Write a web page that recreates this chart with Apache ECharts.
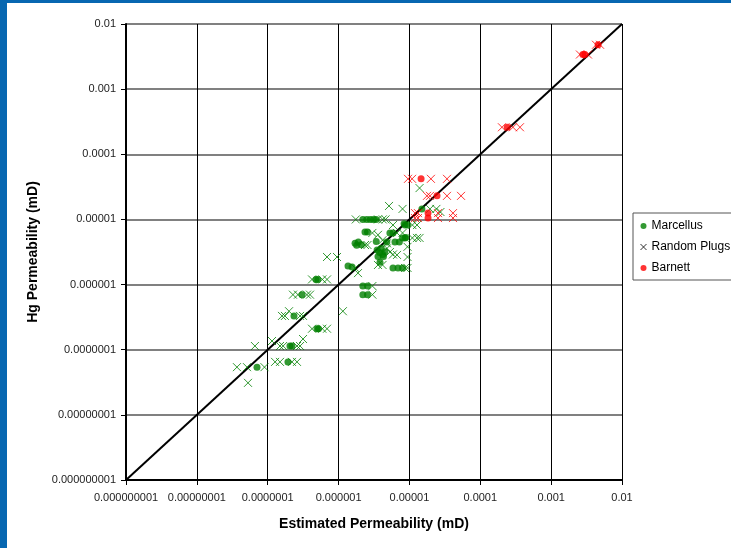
<!DOCTYPE html>
<html>
<head>
<meta charset="utf-8">
<script src="https://cdn.jsdelivr.net/npm/echarts@6/dist/echarts.min.js"></script>
<style>
html,body{margin:0;padding:0;background:#fff;}
#c{width:731px;height:548px;}
</style>
</head>
<body>
<div id="c"></div>
<script>
const tickLabels = ['0.000000001','0.00000001','0.0000001','0.000001','0.00001','0.0001','0.001','0.01'];
const xTitle = 'Estimated Permeability (mD)';
const yTitle = 'Hg Permeability (mD)';
const seriesNames = ['Marcellus','Random Plugs','Barnett'];

// Marcellus (green dots) [estimated, Hg]
const marcellus = [
  [2.2e-6,1e-5],[2.5e-6,1e-5],[2.8e-6,1e-5],[3.1e-6,1e-5],[3.4e-6,1e-5],
  [8.65e-6,8.2e-6],[9.4e-6,8.2e-6],[8.4e-6,8.6e-6],[1.5e-5,1.45e-5],
  [2.36e-6,6.4e-6],[2.56e-6,6.4e-6],[5.3e-6,6.2e-6],[5.86e-6,6.2e-6],
  [8.0e-6,5.2e-6],[8.65e-6,5.2e-6],[8.9e-6,5.3e-6],
  [1.71e-6,4.3e-6],[1.9e-6,4.5e-6],[2.1e-6,4.1e-6],[1.8e-6,4.0e-6],
  [3.4e-6,4.6e-6],[4.8e-6,4.5e-6],[6.25e-6,4.5e-6],[7.2e-6,4.5e-6],
  [3.5e-6,3.4e-6],[3.8e-6,3.1e-6],[4.2e-6,2.9e-6],[3.6e-6,2.7e-6],[4.5e-6,3.2e-6],[4.0e-6,3.6e-6],[4.3e-6,2.7e-6],
  [1.36e-6,1.93e-6],[1.55e-6,1.86e-6],[3.84e-6,2.2e-6],
  [5.86e-6,1.8e-6],[6.9e-6,1.8e-6],[8.0e-6,1.8e-6],
  [4.8e-7,1.2e-6],[5.1e-7,1.2e-6],
  [2.2e-6,9.5e-7],[2.56e-6,9.5e-7],[2.2e-6,7e-7],[2.56e-6,7e-7],
  [3.05e-7,7e-7],[2.35e-7,3.3e-7],[4.96e-7,2.1e-7],[5.2e-7,2.1e-7],
  [2.06e-7,1.14e-7],[2.2e-7,1.14e-7],[1.93e-7,6.5e-8],[7.06e-8,5.4e-8]
];

// Random plugs measured in the Marcellus group (green crosses)
const plugsGreen = [
  [1.39e-5,3.03e-5],[5.15e-6,1.61e-5],[8.0e-6,1.45e-5],[1.95e-5,1.45e-5],[2.4e-5,1.45e-5],[2.74e-5,1.3e-5],
  [1.75e-6,1e-5],[3.6e-6,1e-5],[4.2e-6,1e-5],[4.6e-6,1e-5],
  [5.86e-6,8.2e-6],[1.1e-5,8.2e-6],[1.28e-5,8.2e-6],
  [3.0e-6,6.2e-6],[3.6e-6,5.8e-6],[6.68e-6,6.2e-6],[8.0e-6,6.2e-6],
  [1.1e-5,5.2e-6],[1.28e-5,5.2e-6],[1.39e-5,5.2e-6],
  [2.36e-6,4.05e-6],[2.56e-6,4.05e-6],[4.17e-6,4.8e-6],[4.82e-6,4.3e-6],
  [4.82e-6,3.6e-6],[5.3e-6,3.16e-6],[6.68e-6,2.85e-6],[5.86e-6,2.9e-6],
  [9.4e-6,3.8e-6],[9.4e-6,2.65e-6],[6.87e-7,2.65e-6],[9.5e-7,2.65e-6],
  [1.71e-6,1.8e-6],[1.88e-6,1.5e-6],[3.6e-6,2.0e-6],[4.17e-6,2.0e-6],
  [8.65e-6,1.8e-6],[9.4e-6,1.8e-6],
  [4.22e-7,1.2e-6],[5.9e-7,1.2e-6],[6.87e-7,1.2e-6],
  [3.0e-6,9.5e-7],[3.0e-6,7e-7],
  [2.27e-7,7e-7],[2.67e-7,7e-7],[3.58e-7,7e-7],[3.95e-7,7e-7],
  [1.15e-6,3.9e-7],[2.0e-7,3.9e-7],
  [1.59e-7,3.3e-7],[1.75e-7,3.3e-7],[2.86e-7,3.3e-7],[3.15e-7,3.3e-7],
  [4.22e-7,2.1e-7],[5.9e-7,2.1e-7],[6.87e-7,2.1e-7],
  [3.15e-7,1.46e-7],[6.6e-8,1.14e-7],[1.15e-7,1.36e-7],
  [1.49e-7,1.14e-7],[1.65e-7,1.14e-7],[2.59e-7,1.14e-7],[2.86e-7,1.14e-7],
  [1.27e-7,6.5e-8],[1.49e-7,6.5e-8],[2.2e-7,6.5e-8],[2.59e-7,6.5e-8],
  [3.68e-8,5.4e-8],[5.1e-8,5.4e-8],[9.0e-8,5.4e-8],[5.27e-8,3.1e-8]
];

// Random plugs measured in the Barnett group (red crosses)
const plugsRed = [
  [9.55e-6,4.2e-5],[1.09e-5,4.2e-5],[2.01e-5,4.2e-5],[3.39e-5,4.2e-5],
  [1.77e-5,2.3e-5],[1.95e-5,2.3e-5],[3.39e-5,2.3e-5],[5.35e-5,2.3e-5],
  [1.2e-5,1.25e-5],[1.32e-5,1.25e-5],[2.53e-5,1.25e-5],[4.12e-5,1.25e-5],
  [1.2e-5,1.05e-5],[1.32e-5,1.05e-5],[2.53e-5,1.05e-5],[4.12e-5,1.05e-5],
  [2.55e-3,3.4e-3],[3.31e-3,3.4e-3],[4.3e-3,4.8e-3],[4.9e-3,4.8e-3],
  [2.02e-4,2.6e-4],[2.89e-4,2.6e-4],[3.63e-4,2.6e-4]
];

// Barnett (red dots)
const barnett = [
  [1.46e-5,4.2e-5],[2.45e-5,2.3e-5],[1.83e-5,1.26e-5],[1.83e-5,1.05e-5],
  [2.8e-3,3.4e-3],[3.0e-3,3.4e-3],[4.6e-3,4.8e-3],[2.4e-4,2.6e-4]
];

// 1:1 line
const oneToOne = [[1e-9,1e-9],[1e-2,1e-2]];

const crossPath = 'path://M0,0L10,10M10,0L0,10';
const fmt = v => tickLabels[Math.round(Math.log10(v)) + 9];

const chart = echarts.init(document.getElementById('c'), null, {renderer:'canvas'});
chart.setOption({
  animation: false,
  backgroundColor: '#fff',
  textStyle: {fontFamily: 'Liberation Sans, Arial, sans-serif'},
  graphic: [
    {type:'rect', left:0, top:0, shape:{width:731, height:3}, style:{fill:'#0767b1'}, z:100},
    {type:'rect', left:0, top:0, shape:{width:7, height:548}, style:{fill:'#0767b1'}, z:100}
  ],
  grid: {left:126, right:109, top:24, bottom:68},
  legend: {
    orient:'vertical', left:633, top:213,
    borderColor:'#555', borderWidth:1, padding:[7,20,6,5],
    itemWidth:6, itemHeight:6, itemGap:9,
    textStyle:{fontSize:12, color:'#000', fontFamily:'Liberation Sans, Arial, sans-serif'},
    data:[
      {name:'Marcellus', icon:'circle'},
      {name:'Random Plugs', icon:crossPath, itemStyle:{color:'none', borderColor:'#000', borderWidth:1}},
      {name:'Barnett', icon:'circle'}
    ]
  },
  xAxis: {
    type:'log', logBase:10, min:1e-9, max:1e-2,
    name:xTitle, nameLocation:'middle', nameGap:37,
    nameTextStyle:{fontSize:14, fontWeight:'bold', color:'#000'},
    axisLine:{lineStyle:{color:'#000', width:2}},
    axisTick:{show:true, length:5, lineStyle:{color:'#000', width:1}},
    axisLabel:{formatter:fmt, fontSize:11, color:'#222', margin:12},
    splitLine:{show:true, lineStyle:{color:'#000', width:1}},
    minorTick:{show:false}
  },
  yAxis: {
    type:'log', logBase:10, min:1e-9, max:1e-2,
    name:yTitle, nameLocation:'middle', nameGap:86, nameRotate:90,
    nameTextStyle:{fontSize:14, fontWeight:'bold', color:'#000'},
    axisLine:{lineStyle:{color:'#000', width:2}},
    axisTick:{show:true, length:5, lineStyle:{color:'#000', width:1}},
    axisLabel:{formatter:fmt, fontSize:11, color:'#222', margin:10},
    splitLine:{show:true, lineStyle:{color:'#808080', width:2}}
  },
  series: [
    {name:'1:1', type:'line', data:oneToOne, symbol:'none', silent:true,
     lineStyle:{color:'#000', width:2}, z:1},
    {name:'Marcellus', type:'scatter', data:marcellus, symbol:'circle', symbolSize:7,
     itemStyle:{color:'#008000'}, z:2},
    {name:'Random Plugs', type:'scatter', data:plugsGreen, symbol:crossPath, symbolSize:8,
     itemStyle:{color:'none', borderColor:'#008000', borderWidth:1}, z:3},
    {name:'Random Plugs', type:'scatter', data:plugsRed, symbol:crossPath, symbolSize:8,
     itemStyle:{color:'none', borderColor:'#ff0000', borderWidth:1}, z:3},
    {name:'Barnett', type:'scatter', data:barnett, symbol:'circle', symbolSize:7,
     itemStyle:{color:'#ff0000'}, z:4}
  ]
});
</script>
</body>
</html>
